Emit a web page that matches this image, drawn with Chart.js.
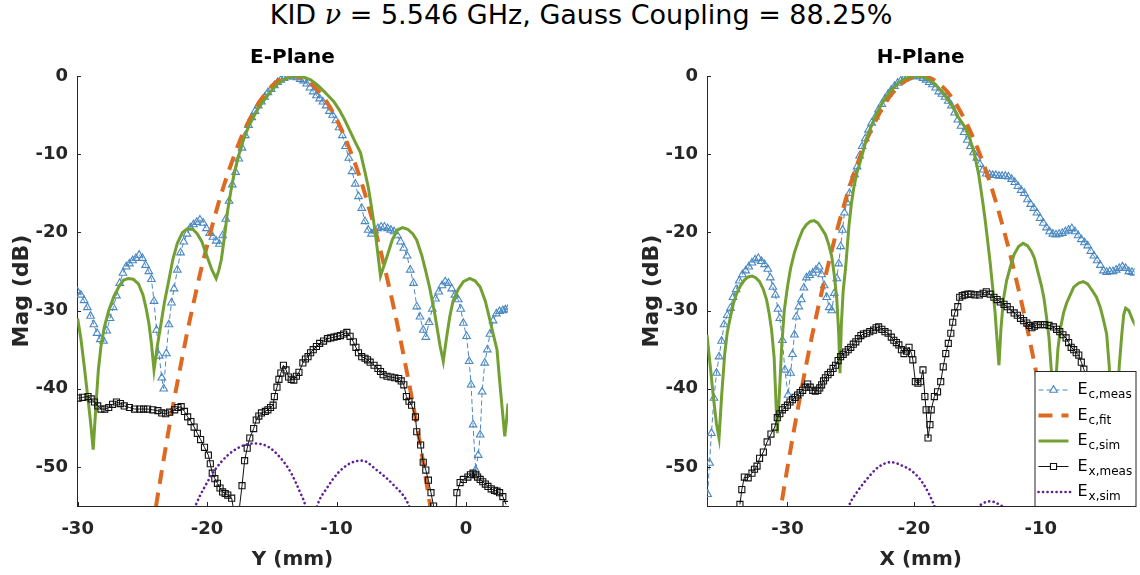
<!DOCTYPE html>
<html>
<head>
<meta charset="utf-8">
<title>KID beam cuts</title>
<script src="https://cdn.jsdelivr.net/npm/chart.js@4.4.1/dist/chart.umd.min.js"></script>
<style>
  html, body { margin: 0; padding: 0; background: #fff; }
  #page { position: relative; width: 1140px; height: 575px; overflow: hidden; }
  #mainTitle { position: absolute; left: 0; top: 0; width: 1162px; text-align: center;
               font: 27px 'DejaVu Sans', sans-serif; line-height: 30px; color: #000; }
  #mainTitle i { font-family: 'DejaVu Serif', serif; }
  canvas { position: absolute; top: 0; }
  #eCanvas { left: 0; }
  #hCanvas { left: 570px; }
</style>
</head>
<body>
<div id="page">
  <div id="mainTitle">KID <i>ν</i> = 5.546 GHz, Gauss Coupling = 88.25%</div>
  <canvas id="eCanvas" width="570" height="575"></canvas>
  <canvas id="hCanvas" width="570" height="575"></canvas>
</div>
<script>
// ---- data: [position (mm), magnitude (dB)] ----
const seriesNames = ['E_c,meas', 'E_c,fit', 'E_c,sim', 'E_x,meas', 'E_x,sim'];
const yTicks = [-50, -40, -30, -20, -10, 0];
const eXTicks = [-30, -20, -10, 0];
const hXTicks = [-30, -20, -10];

// E-plane
const eMeas = [[-30.0,-27.6],[-29.75,-28.0],[-29.5,-28.7],[-29.25,-29.6],[-29.0,-30.7],[-28.75,-31.8],[-28.5,-32.9],[-28.25,-33.7],[-28.0,-33.9],[-27.75,-32.6],[-27.5,-31.0],[-27.25,-29.6],[-27.0,-28.1],[-26.75,-26.5],[-26.5,-25.2],[-26.25,-24.4],[-26.0,-24.0],[-25.75,-23.6],[-25.5,-23.3],[-25.25,-22.9],[-25.0,-23.3],[-24.75,-24.2],[-24.5,-25.0],[-24.3,-26.0],[-24.1,-28.8],[-23.9,-32.5],[-23.7,-35.8],[-23.5,-38.6],[-23.35,-40.0],[-23.15,-35.5],[-22.95,-31.8],[-22.75,-29.0],[-22.55,-27.2],[-22.3,-24.8],[-22.05,-22.6],[-21.8,-21.2],[-21.55,-20.2],[-21.3,-19.4],[-21.05,-19.0],[-20.8,-18.7],[-20.55,-18.4],[-20.3,-18.8],[-20.05,-19.5],[-19.8,-20.1],[-19.55,-20.6],[-19.3,-21.1],[-19.05,-21.5],[-18.8,-20.4],[-18.55,-18.3],[-18.3,-16.0],[-18.05,-13.9],[-17.8,-12.3],[-17.55,-10.6],[-17.3,-9.2],[-17.05,-7.6],[-16.8,-6.3],[-16.55,-5.3],[-16.3,-4.5],[-16.05,-3.8],[-15.8,-3.3],[-15.55,-2.7],[-15.3,-2.1],[-15.05,-1.7],[-14.8,-1.2],[-14.55,-0.8],[-14.3,-0.5],[-14.05,-0.3],[-13.8,-0.1],[-13.55,0.0],[-13.3,-0.1],[-13.05,-0.2],[-12.8,-0.4],[-12.55,-0.6],[-12.3,-1.0],[-12.05,-1.5],[-11.8,-2.0],[-11.55,-2.5],[-11.3,-2.9],[-11.05,-3.3],[-10.8,-3.8],[-10.55,-4.5],[-10.3,-5.0],[-10.05,-5.7],[-9.8,-6.6],[-9.55,-7.6],[-9.3,-9.0],[-9.05,-10.5],[-8.8,-12.2],[-8.55,-13.8],[-8.3,-15.4],[-8.05,-16.9],[-7.8,-18.6],[-7.55,-19.7],[-7.3,-20.2],[-7.05,-19.8],[-6.8,-19.5],[-6.55,-19.3],[-6.3,-19.3],[-6.05,-19.5],[-5.8,-19.7],[-5.55,-19.9],[-5.3,-20.4],[-5.05,-21.2],[-4.8,-22.0],[-4.55,-23.0],[-4.3,-24.8],[-4.05,-26.5],[-3.8,-29.5],[-3.55,-30.8],[-3.3,-32.5],[-3.1,-33.4],[-2.85,-31.5],[-2.6,-29.8],[-2.35,-28.5],[-2.1,-27.6],[-1.85,-26.8],[-1.6,-26.3],[-1.35,-26.5],[-1.1,-27.2],[-0.85,-28.0],[-0.6,-28.6],[-0.4,-29.8],[-0.2,-31.6],[0.05,-33.3],[0.25,-36.5],[0.4,-39.5],[0.55,-44.6],[0.75,-50.4],[0.95,-48.5],[1.1,-45.9],[1.25,-40.4],[1.45,-36.7],[1.65,-35.0],[1.85,-33.0],[2.1,-31.3],[2.35,-30.4],[2.6,-30.1],[2.85,-30.0],[3.05,-29.9],[3.25,-29.8]];
const eFit = [[-24.5,-60.9],[-24,-55.6],[-23.5,-50.5],[-23,-45.6],[-22.5,-41.0],[-22,-36.7],[-21.5,-32.5],[-21,-28.7],[-20.5,-25.0],[-20,-21.7],[-19.5,-18.5],[-19,-15.6],[-18.5,-13.0],[-18,-10.6],[-17.5,-8.4],[-17,-6.5],[-16.5,-4.9],[-16,-3.4],[-15.5,-2.3],[-15,-1.3],[-14.5,-0.6],[-14,-0.2],[-13.5,0.0],[-13,-0.06],[-12.5,-0.35],[-12,-0.9],[-11.5,-1.7],[-11,-2.7],[-10.5,-4.0],[-10,-5.5],[-9.5,-7.3],[-9,-9.3],[-8.5,-11.5],[-8,-14.0],[-7.5,-16.8],[-7,-19.8],[-6.5,-23.0],[-6,-26.5],[-5.5,-30.2],[-5,-34.2],[-4.5,-38.4],[-4,-42.8],[-3.5,-47.5],[-3,-52.5],[-2.5,-57.7]];
const eSim = [[-30.0,-31.0],[-29.75,-33.6],[-29.5,-37.0],[-29.25,-40.6],[-29.0,-44.3],[-28.8,-47.8],[-28.6,-42.5],[-28.4,-37.6],[-28.2,-34.6],[-27.95,-32.2],[-27.6,-30.0],[-27.2,-28.2],[-26.8,-26.9],[-26.45,-26.1],[-26.1,-25.9],[-25.7,-26.0],[-25.3,-26.6],[-24.95,-28.0],[-24.7,-29.8],[-24.5,-31.6],[-24.3,-34.2],[-24.1,-37.6],[-23.85,-34.6],[-23.55,-31.6],[-23.3,-29.0],[-23.0,-26.5],[-22.65,-23.5],[-22.3,-21.4],[-21.9,-20.0],[-21.5,-19.5],[-21.1,-19.6],[-20.75,-20.2],[-20.4,-21.2],[-20.0,-23.1],[-19.65,-24.7],[-19.3,-25.9],[-19.1,-24.9],[-18.9,-23.5],[-18.65,-20.5],[-18.4,-17.1],[-18.15,-14.6],[-17.9,-12.4],[-17.55,-10.1],[-17.2,-8.2],[-16.8,-6.5],[-16.4,-5.2],[-16.0,-4.0],[-15.6,-3.1],[-15.1,-2.0],[-14.6,-1.1],[-14.1,-0.5],[-13.6,-0.1],[-13.0,0.0],[-12.5,-0.15],[-12.0,-0.5],[-11.5,-1.1],[-11.0,-1.9],[-10.6,-2.6],[-10.2,-3.3],[-9.8,-4.3],[-9.4,-5.5],[-9.0,-6.9],[-8.6,-8.3],[-8.15,-9.8],[-7.8,-12.3],[-7.55,-14.2],[-7.35,-16.2],[-7.15,-18.4],[-7.0,-20.1],[-6.8,-22.8],[-6.6,-25.6],[-6.4,-24.6],[-6.1,-23.1],[-5.7,-21.0],[-5.3,-19.7],[-4.9,-19.4],[-4.5,-19.6],[-4.1,-20.2],[-3.8,-21.0],[-3.4,-23.0],[-3.1,-25.0],[-2.8,-27.1],[-2.4,-30.5],[-2.0,-34.5],[-1.75,-36.5],[-1.5,-33.5],[-1.25,-30.8],[-1.0,-28.8],[-0.6,-27.3],[-0.2,-26.3],[0.3,-25.9],[0.7,-26.2],[1.1,-27.0],[1.5,-28.8],[1.85,-31.2],[2.15,-33.3],[2.4,-35.0],[2.6,-38.9],[2.8,-42.5],[3.0,-46.1],[3.15,-43.8],[3.25,-41.9]];
const eXMeas = [[-29.95,-41.2],[-29.6,-41.1],[-29.2,-41.0],[-28.95,-41.3],[-28.7,-41.7],[-28.45,-42.2],[-28.2,-42.6],[-27.9,-42.6],[-27.6,-42.4],[-27.3,-42.0],[-27.0,-41.7],[-26.7,-41.9],[-26.4,-42.2],[-26.0,-42.4],[-25.6,-42.6],[-25.2,-42.6],[-24.9,-42.6],[-24.6,-42.6],[-24.2,-42.7],[-23.8,-42.8],[-23.5,-43.1],[-23.2,-43.2],[-22.9,-43.0],[-22.5,-42.7],[-22.25,-42.4],[-22.0,-42.3],[-21.75,-42.9],[-21.5,-43.6],[-21.25,-44.2],[-21.0,-44.9],[-20.75,-45.7],[-20.5,-46.5],[-20.2,-47.5],[-19.9,-48.5],[-19.75,-49.6],[-19.6,-50.8],[-19.4,-51.5],[-19.2,-52.1],[-19.0,-52.7],[-18.8,-53.2],[-18.6,-53.4],[-18.4,-53.6],[-18.1,-54.0],[-17.7,-58.0],[-17.3,-52.4],[-17.1,-49.2],[-16.9,-47.6],[-16.7,-46.3],[-16.4,-45.1],[-16.2,-44.0],[-16.0,-43.5],[-15.8,-43.1],[-15.5,-42.9],[-15.3,-42.7],[-15.1,-42.4],[-14.9,-42.1],[-14.8,-41.0],[-14.6,-39.8],[-14.45,-38.8],[-14.3,-38.0],[-14.1,-37.0],[-13.9,-37.6],[-13.7,-38.5],[-13.5,-38.8],[-13.3,-38.9],[-13.1,-38.4],[-12.9,-37.9],[-12.6,-36.7],[-12.4,-36.2],[-12.2,-35.9],[-12.0,-35.4],[-11.8,-35.0],[-11.55,-34.6],[-11.3,-34.2],[-11.0,-33.9],[-10.7,-33.6],[-10.45,-33.5],[-10.2,-33.4],[-9.95,-33.3],[-9.7,-33.2],[-9.45,-33.0],[-9.2,-32.8],[-8.95,-33.3],[-8.7,-34.0],[-8.5,-34.7],[-8.3,-35.4],[-8.05,-35.9],[-7.8,-36.1],[-7.6,-36.3],[-7.4,-36.6],[-7.1,-37.0],[-6.8,-37.4],[-6.6,-37.8],[-6.4,-38.2],[-6.1,-38.4],[-5.8,-38.5],[-5.5,-38.6],[-5.2,-38.7],[-5.0,-39.0],[-4.8,-39.5],[-4.6,-41.0],[-4.4,-41.6],[-4.2,-42.1],[-3.9,-43.6],[-3.8,-45.5],[-3.5,-47.2],[-3.3,-49.4],[-3.1,-50.4],[-2.9,-51.7],[-2.7,-53.3],[-2.5,-55.0],[-2.3,-60.0],[-0.9,-60.0],[-0.7,-53.3],[-0.45,-52.0],[-0.2,-51.6],[0.15,-51.3],[0.35,-51.0],[0.55,-50.8],[0.75,-51.0],[0.9,-51.3],[1.1,-51.6],[1.3,-51.9],[1.5,-52.2],[1.7,-52.5],[1.95,-52.8],[2.2,-53.0],[2.4,-53.1],[2.6,-53.3],[2.85,-53.8],[3.1,-54.8]];
const eXSim = [[-21.4,-57.5],[-20.9,-55.0],[-20.2,-52.6],[-19.4,-50.4],[-18.4,-48.5],[-17.4,-47.4],[-16.4,-47.0],[-15.3,-47.4],[-14.3,-48.9],[-13.5,-50.8],[-12.8,-53.3],[-12.4,-55.0],[-12.0,-58.5],[-11.5,-55.0],[-10.7,-52.6],[-9.9,-50.8],[-8.9,-49.5],[-8.0,-49.2],[-6.9,-50.4],[-5.6,-52.3],[-4.5,-54.6],[-4.0,-57.0]];

// H-plane
const hMeas = [[-36.3,-53.5],[-36.15,-49.5],[-36.0,-45.7],[-35.8,-41.2],[-35.6,-38.0],[-35.4,-35.9],[-35.2,-33.9],[-35.0,-31.8],[-34.75,-30.6],[-34.5,-29.7],[-34.3,-28.3],[-34.05,-27.3],[-33.8,-26.2],[-33.55,-25.4],[-33.3,-24.9],[-33.05,-24.4],[-32.8,-23.9],[-32.55,-23.5],[-32.3,-23.3],[-32.05,-23.7],[-31.8,-24.1],[-31.55,-24.7],[-31.35,-25.8],[-31.15,-27.0],[-30.95,-28.0],[-30.75,-29.8],[-30.6,-31.0],[-30.4,-33.8],[-30.2,-37.6],[-29.95,-40.8],[-29.75,-38.0],[-29.6,-35.6],[-29.45,-33.1],[-29.3,-30.8],[-29.1,-29.5],[-28.9,-28.6],[-28.7,-27.1],[-28.5,-25.8],[-28.25,-25.5],[-28.0,-25.2],[-27.75,-24.8],[-27.5,-24.4],[-27.3,-25.4],[-27.1,-26.8],[-26.9,-28.3],[-26.7,-29.6],[-26.5,-30.0],[-26.3,-27.8],[-26.1,-25.9],[-25.95,-24.0],[-25.8,-21.8],[-25.65,-19.7],[-25.5,-17.5],[-25.3,-16.2],[-25.1,-15.0],[-24.9,-13.7],[-24.7,-12.6],[-24.5,-11.6],[-24.3,-10.2],[-24.1,-9.0],[-23.85,-8.0],[-23.6,-6.9],[-23.35,-6.0],[-23.05,-5.2],[-22.8,-4.3],[-22.55,-3.6],[-22.3,-2.9],[-22.05,-2.3],[-21.8,-1.8],[-21.55,-1.3],[-21.3,-0.9],[-21.05,-0.6],[-20.8,-0.4],[-20.55,-0.2],[-20.3,-0.1],[-20.05,0.0],[-19.8,0.0],[-19.55,-0.1],[-19.3,-0.3],[-19.05,-0.5],[-18.8,-0.8],[-18.55,-1.1],[-18.3,-1.5],[-18.05,-2.0],[-17.8,-2.3],[-17.55,-2.7],[-17.3,-3.2],[-17.05,-3.8],[-16.8,-4.7],[-16.55,-5.6],[-16.3,-6.4],[-16.05,-7.2],[-15.8,-8.2],[-15.55,-9.0],[-15.3,-9.8],[-15.05,-10.5],[-14.8,-11.3],[-14.55,-12.0],[-14.3,-12.5],[-14.05,-12.6],[-13.8,-12.7],[-13.55,-12.7],[-13.3,-12.8],[-13.05,-12.8],[-12.8,-12.8],[-12.55,-12.9],[-12.3,-13.2],[-12.05,-13.6],[-11.8,-14.1],[-11.55,-14.6],[-11.3,-15.0],[-11.05,-15.8],[-10.8,-16.4],[-10.55,-16.9],[-10.3,-17.5],[-10.05,-18.2],[-9.8,-18.8],[-9.55,-19.4],[-9.3,-19.9],[-9.05,-20.2],[-8.8,-20.3],[-8.55,-20.2],[-8.3,-20.1],[-8.05,-19.9],[-7.8,-19.7],[-7.55,-19.5],[-7.3,-19.9],[-7.05,-20.4],[-6.8,-20.9],[-6.55,-21.3],[-6.3,-21.7],[-6.05,-22.4],[-5.8,-23.0],[-5.55,-23.6],[-5.3,-24.2],[-5.05,-24.9],[-4.8,-25.1],[-4.55,-25.0],[-4.3,-25.0],[-4.05,-24.8],[-3.8,-24.6],[-3.55,-24.4],[-3.3,-24.6],[-3.05,-25.0],[-2.8,-25.1],[-2.6,-25.2]];
const hFit = [[-31,-60.1],[-30.5,-55.0],[-30,-50.1],[-29,-41.0],[-28,-32.8],[-27,-25.6],[-26,-19.2],[-25,-13.7],[-24,-9.2],[-23,-5.6],[-22,-2.8],[-21,-1.0],[-20,-0.1],[-19.5,0.0],[-19,-0.1],[-18,-1.0],[-17,-2.8],[-16,-5.6],[-15,-9.2],[-14,-13.7],[-13,-19.2],[-12,-25.6],[-11,-32.8],[-10,-41.0],[-9,-50.1],[-8.5,-55.0],[-8,-60.1]];
const hSim = [[-36.35,-33.1],[-36.1,-37.0],[-35.85,-41.0],[-35.6,-44.5],[-35.4,-46.3],[-35.2,-41.0],[-34.95,-35.5],[-34.75,-32.8],[-34.5,-30.8],[-34.25,-29.0],[-34.0,-27.8],[-33.7,-26.8],[-33.4,-26.1],[-33.1,-25.7],[-32.8,-25.6],[-32.5,-25.8],[-32.2,-26.3],[-31.9,-27.3],[-31.65,-28.6],[-31.45,-30.3],[-31.25,-32.5],[-31.05,-36.0],[-30.8,-45.7],[-30.6,-39.5],[-30.45,-34.5],[-30.25,-30.0],[-30.0,-27.0],[-29.75,-24.6],[-29.45,-22.6],[-29.1,-20.9],[-28.8,-19.7],[-28.5,-19.0],[-28.2,-18.6],[-27.9,-18.5],[-27.6,-18.8],[-27.3,-19.5],[-27.0,-20.3],[-26.75,-21.5],[-26.5,-23.1],[-26.3,-25.5],[-26.1,-28.6],[-25.95,-33.0],[-25.85,-38.0],[-25.75,-32.0],[-25.6,-27.5],[-25.4,-24.4],[-25.15,-19.3],[-24.95,-16.3],[-24.75,-14.2],[-24.5,-12.3],[-24.2,-10.7],[-23.9,-8.9],[-23.6,-7.3],[-23.2,-5.7],[-22.8,-4.3],[-22.3,-2.9],[-21.8,-1.8],[-21.3,-1.0],[-20.8,-0.4],[-20.3,-0.1],[-19.8,0.0],[-19.3,-0.1],[-18.8,-0.5],[-18.3,-1.1],[-17.8,-2.0],[-17.3,-3.1],[-16.9,-4.1],[-16.5,-5.3],[-16.0,-6.5],[-15.6,-8.0],[-15.25,-9.9],[-14.9,-12.6],[-14.6,-15.9],[-14.4,-18.3],[-14.2,-21.0],[-14.0,-23.8],[-13.8,-27.0],[-13.6,-30.4],[-13.45,-33.8],[-13.3,-37.0],[-13.15,-32.5],[-12.95,-28.6],[-12.7,-26.2],[-12.4,-24.4],[-12.1,-22.8],[-11.75,-21.8],[-11.4,-21.4],[-11.05,-21.7],[-10.75,-22.4],[-10.5,-23.3],[-10.2,-25.2],[-9.95,-26.8],[-9.75,-28.4],[-9.55,-30.8],[-9.35,-33.5],[-9.15,-38.0],[-9.0,-45.0],[-8.85,-40.0],[-8.65,-35.0],[-8.45,-32.3],[-8.2,-30.3],[-7.95,-29.0],[-7.7,-28.1],[-7.4,-27.0],[-7.0,-26.5],[-6.65,-26.3],[-6.3,-26.6],[-5.95,-27.4],[-5.6,-28.3],[-5.3,-29.6],[-5.05,-31.2],[-4.8,-33.0],[-4.6,-37.0],[-4.4,-43.0],[-4.2,-48.0],[-4.0,-43.0],[-3.8,-37.0],[-3.6,-33.0],[-3.45,-30.5],[-3.3,-29.7],[-3.05,-30.0],[-2.75,-31.2],[-2.5,-32.0]];
const hXMeas = [[-33.75,-54.8],[-33.6,-52.9],[-33.4,-51.3],[-33.1,-51.4],[-32.8,-50.8],[-32.6,-50.3],[-32.4,-49.9],[-32.2,-48.9],[-31.9,-48.1],[-31.6,-46.8],[-31.3,-45.8],[-31.0,-44.9],[-30.8,-43.7],[-30.6,-43.2],[-30.4,-42.7],[-30.2,-42.4],[-30.0,-42.1],[-29.8,-41.7],[-29.6,-41.4],[-29.4,-41.1],[-29.2,-40.8],[-29.0,-40.5],[-28.8,-40.2],[-28.6,-39.8],[-28.4,-39.4],[-28.2,-39.8],[-28.0,-40.2],[-27.8,-40.3],[-27.6,-40.2],[-27.45,-39.9],[-27.3,-39.5],[-27.15,-39.0],[-27.0,-38.6],[-26.8,-38.2],[-26.6,-37.9],[-26.4,-37.4],[-26.2,-37.0],[-26.0,-36.4],[-25.8,-35.9],[-25.6,-35.6],[-25.4,-35.3],[-25.2,-35.0],[-25.0,-34.7],[-24.8,-34.3],[-24.6,-34.0],[-24.4,-33.6],[-24.2,-33.2],[-24.0,-33.0],[-23.75,-32.9],[-23.5,-32.7],[-23.2,-32.5],[-23.0,-32.2],[-22.8,-32.1],[-22.55,-32.4],[-22.3,-32.7],[-22.05,-32.9],[-21.8,-33.4],[-21.6,-33.8],[-21.4,-34.1],[-21.2,-34.4],[-21.0,-35.0],[-20.8,-35.5],[-20.6,-35.2],[-20.4,-34.7],[-20.2,-35.5],[-20.1,-36.3],[-19.9,-39.1],[-19.7,-39.3],[-19.5,-39.1],[-19.3,-37.6],[-19.15,-41.0],[-19.05,-42.7],[-18.9,-46.3],[-18.75,-44.6],[-18.65,-42.7],[-18.4,-41.0],[-18.15,-40.4],[-17.9,-39.1],[-17.7,-37.2],[-17.5,-35.5],[-17.3,-34.2],[-17.1,-32.9],[-16.95,-31.5],[-16.8,-30.3],[-16.55,-29.5],[-16.4,-28.3],[-16.2,-28.1],[-16.0,-28.0],[-15.75,-27.9],[-15.5,-27.9],[-15.2,-28.0],[-14.85,-28.0],[-14.55,-27.8],[-14.3,-27.6],[-14.0,-27.9],[-13.7,-28.3],[-13.45,-28.6],[-13.2,-28.9],[-12.9,-29.2],[-12.65,-29.5],[-12.4,-29.9],[-12.1,-30.3],[-11.85,-30.6],[-11.6,-31.0],[-11.35,-31.3],[-11.1,-31.6],[-10.9,-31.9],[-10.7,-32.2],[-10.5,-32.0],[-10.3,-31.8],[-10.0,-31.8],[-9.7,-31.8],[-9.35,-31.9],[-9.0,-32.1],[-8.75,-32.4],[-8.5,-32.7],[-8.25,-33.1],[-8.0,-33.5],[-7.8,-34.1],[-7.6,-34.7],[-7.4,-35.0],[-7.2,-35.4],[-7.0,-35.7],[-6.8,-36.6],[-6.6,-37.5],[-6.4,-38.6],[-6.2,-39.8],[-6.0,-41.0]];
const hXSim = [[-25.6,-57.5],[-25.15,-55.0],[-24.5,-53.2],[-23.8,-51.7],[-22.8,-50.0],[-21.8,-49.4],[-21.0,-49.8],[-20.2,-50.5],[-19.3,-52.1],[-18.4,-55.0],[-18.0,-57.0],[-16.5,-60.0],[-15.2,-55.6],[-14.6,-54.7],[-14.0,-54.4],[-13.4,-54.7],[-12.8,-55.6],[-12.0,-60.0]];

// ---- styling ----
const FONT = "'DejaVu Sans', sans-serif";
const AXIS = '#262626';
const BLUE = '#4a88c2';
const ORANGE = '#DE6A22';
const GREEN = '#72A032';
const BLACK = '#111111';
const PURPLE = '#5E1F9B';

const toPoints = arr => arr.map(p => ({ x: p[0], y: p[1] }));

// small inward tick marks, MATLAB style
const innerTicks = {
    id: 'innerTicks',
    afterDatasetsDraw(chart) {
        const { ctx, chartArea: a, scales: { x, y } } = chart;
        ctx.save();
        ctx.strokeStyle = AXIS;
        ctx.lineWidth = 1;
        ctx.beginPath();
        x.ticks.forEach(t => {
            const px = Math.round(x.getPixelForValue(t.value)) + 0.5;
            ctx.moveTo(px, a.bottom);
            ctx.lineTo(px, a.bottom - 4);
        });
        y.ticks.forEach(t => {
            const py = Math.round(y.getPixelForValue(t.value)) + 0.5;
            ctx.moveTo(a.left, py);
            ctx.lineTo(a.left + 4, py);
        });
        ctx.stroke();
        ctx.restore();
    }
};

function drawMarker(ctx, style, x, y, r) {
    ctx.beginPath();
    if (style === 'triangle') {
        ctx.moveTo(x, y - r);
        ctx.lineTo(x + r * 0.866, y + r * 0.5);
        ctx.lineTo(x - r * 0.866, y + r * 0.5);
        ctx.closePath();
    } else {
        const s = r * Math.SQRT1_2;
        ctx.rect(x - s, y - s, 2 * s, 2 * s);
    }
    ctx.fillStyle = '#fff';
    ctx.fill();
    ctx.stroke();
}

// boxed legend with subscripted names, bottom-right of the chart area
const legendBox = {
    id: 'legendBox',
    afterDraw(chart, args, opts) {
        if (!opts.show) return;
        const { ctx, chartArea: a } = chart;
        const w = 101, h = 135;
        const left = a.right - w + 1, top = a.bottom - h;
        ctx.save();
        ctx.fillStyle = '#fff';
        ctx.fillRect(left, top, w, h);
        ctx.strokeStyle = AXIS;
        ctx.lineWidth = 1;
        ctx.strokeRect(left + 0.5, top + 0.5, w, h);
        chart.data.datasets.forEach((ds, i) => {
            const cy = top + 19 + i * 25.5;
            const x0 = left + 4;
            const x1 = left + (ds.borderDash && ds.borderDash[0] < 1 ? 38 : 34);
            ctx.save();
            ctx.strokeStyle = ds.borderColor;
            ctx.lineWidth = ds.borderWidth;
            ctx.lineCap = ds.borderCapStyle || 'butt';
            ctx.setLineDash(ds.borderDash || []);
            ctx.beginPath();
            ctx.moveTo(x0, cy);
            ctx.lineTo(x1, cy);
            ctx.stroke();
            ctx.restore();
            if (ds.pointRadius) {
                ctx.save();
                ctx.strokeStyle = ds.pointBorderColor;
                ctx.lineWidth = ds.pointBorderWidth;
                drawMarker(ctx, ds.pointStyle, (x0 + x1) / 2, cy, ds.pointRadius);
                ctx.restore();
            }
            const [main, sub] = ds.label.split('_');
            ctx.fillStyle = '#000';
            ctx.textBaseline = 'alphabetic';
            ctx.font = '16px ' + FONT;
            ctx.fillText(main, left + 43, cy + 4);
            const mw = ctx.measureText(main).width;
            ctx.font = '12px ' + FONT;
            ctx.fillText(sub, left + 44 + mw, cy + 8);
        });
        ctx.restore();
    }
};

function makePanel(canvasId, p) {
    const tickFont = { family: FONT, size: 18, weight: 'bold' };
    const datasets = [
        { label: seriesNames[0], data: toPoints(p.meas), borderColor: BLUE, borderWidth: 1, borderDash: [5, 3],
          pointStyle: 'triangle', pointRadius: 4.4, pointBorderWidth: 1.1, pointBorderColor: BLUE,
          pointBackgroundColor: 'rgba(255,255,255,0)' },
        { label: seriesNames[1], data: toPoints(p.fit), borderColor: ORANGE, borderWidth: 4, borderDash: [14, 9],
          pointRadius: 0, cubicInterpolationMode: 'monotone' },
        { label: seriesNames[2], data: toPoints(p.sim), borderColor: GREEN, borderWidth: 3, pointRadius: 0 },
        { label: seriesNames[3], data: toPoints(p.xmeas), borderColor: BLACK, borderWidth: 1,
          pointStyle: 'rect', pointRadius: 4.3, pointBorderWidth: 1.1, pointBorderColor: BLACK,
          pointBackgroundColor: 'rgba(255,255,255,0)' },
        { label: seriesNames[4], data: toPoints(p.xsim), borderColor: PURPLE, borderWidth: 2.6, borderDash: [0.1, 4.4],
          borderCapStyle: 'round', pointRadius: 0, cubicInterpolationMode: 'monotone' }
    ];
    // later series sit on top, as in the original plot
    datasets.forEach((d, i) => { d.order = datasets.length - i; d.fill = false; });

    return new Chart(document.getElementById(canvasId).getContext('2d'), {
        type: 'line',
        data: { datasets },
        plugins: [innerTicks, legendBox],
        options: {
            responsive: false,
            animation: false,
            events: [],
            layout: { padding: { left: p.padLeft, right: p.padRight, top: 40, bottom: 0 } },
            plugins: {
                legend: { display: false },
                tooltip: { enabled: false },
                title: { display: true, fullSize: false, text: p.title, color: '#000',
                         font: { family: FONT, size: 20, weight: 'bold' },
                         padding: { top: 6, bottom: 6 } },
                legendBox: { show: p.legend }
            },
            scales: {
                x: {
                    type: 'linear', min: p.xMin, max: p.xMax,
                    afterBuildTicks: s => { s.ticks = p.xTicks.map(v => ({ value: v })); },
                    afterFit: s => { s.height = 69; },
                    grid: { drawOnChartArea: false, drawTicks: false },
                    border: { color: AXIS, width: 1 },
                    ticks: { color: AXIS, font: tickFont, padding: 13, maxRotation: 0, autoSkip: false },
                    title: { display: true, text: p.xLabel, color: AXIS,
                             font: { family: FONT, size: 20, weight: 'bold' }, padding: { top: 0, bottom: 3 } }
                },
                y: {
                    type: 'linear', min: -55, max: 0,
                    afterBuildTicks: s => { s.ticks = yTicks.map(v => ({ value: v })); },
                    afterFit: s => { s.width = 77; },
                    grid: { drawOnChartArea: false, drawTicks: false },
                    border: { color: AXIS, width: 1 },
                    ticks: { color: AXIS, font: tickFont, padding: 9, autoSkip: false },
                    title: { display: true, text: 'Mag (dB)', color: AXIS,
                             font: { family: FONT, size: 22, weight: 'bold' }, padding: { top: 9, bottom: 0 } }
                }
            }
        }
    });
}

makePanel('eCanvas', {
    title: 'E-Plane', xLabel: 'Y (mm)', xMin: -30.05, xMax: 3.25, xTicks: eXTicks,
    padLeft: 0, padRight: 62, legend: false,
    meas: eMeas, fit: eFit, sim: eSim, xmeas: eXMeas, xsim: eXSim
});
makePanel('hCanvas', {
    title: 'H-Plane', xLabel: 'X (mm)', xMin: -36.35, xMax: -2.6, xTicks: hXTicks,
    padLeft: 60, padRight: 1, legend: true,
    meas: hMeas, fit: hFit, sim: hSim, xmeas: hXMeas, xsim: hXSim
});
</script>
</body>
</html>
